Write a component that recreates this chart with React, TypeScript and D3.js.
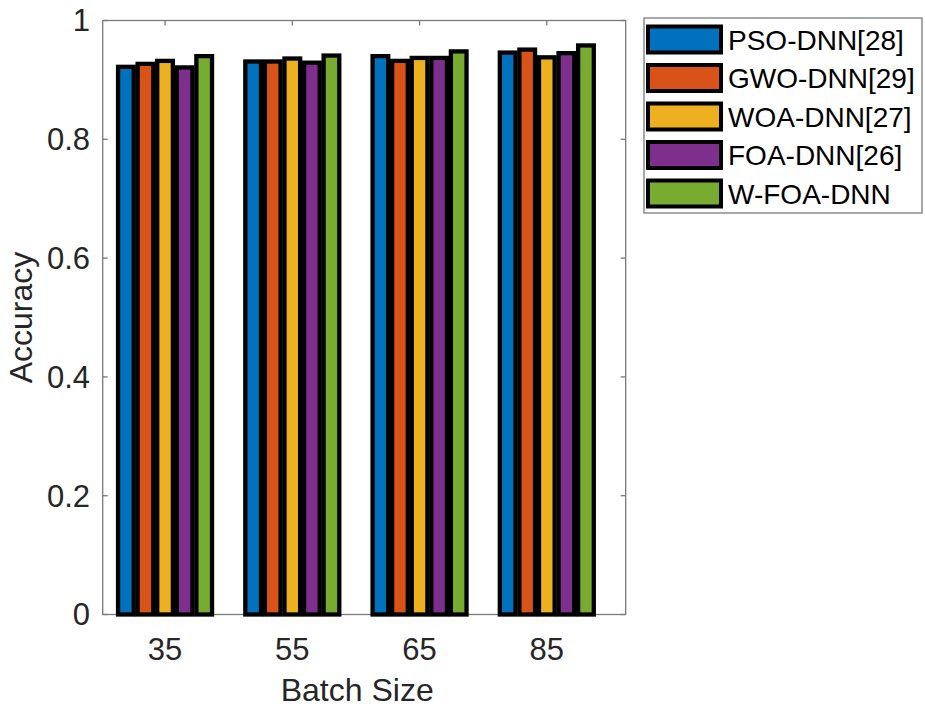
import React from "react";
import * as d3 from "d3";

const categories = ["35", "55", "65", "85"];
const seriesNames = ["PSO-DNN[28]", "GWO-DNN[29]", "WOA-DNN[27]", "FOA-DNN[26]", "W-FOA-DNN"];
const colors = ["#0072BD", "#D95319", "#EDB120", "#7E2F8E", "#77AC30"];
const psoValues = [0.922, 0.931, 0.940, 0.946];
const gwoValues = [0.927, 0.931, 0.932, 0.951];
const woaValues = [0.932, 0.936, 0.937, 0.938];
const foaValues = [0.921, 0.929, 0.937, 0.945];
const wfoaValues = [0.940, 0.941, 0.948, 0.958];
const seriesValues = [psoValues, gwoValues, woaValues, foaValues, wfoaValues];
const yTicks = [0, 0.2, 0.4, 0.6, 0.8, 1];

const W = 925;
const H = 709;
const left = 102.7;
const right = 625.7;
const top = 20.5;
const bottom = 614.5;
const font = "'Liberation Sans', Arial, Helvetica, sans-serif";

export default function App() {
  const x = d3.scaleLinear().domain([0.51, 4.62]).range([left, right]);
  const y = d3.scaleLinear().domain([0, 1]).range([bottom, top]);
  const nS = seriesNames.length;
  const groupW = Math.min(0.8, nS / (nS + 1.5));
  const pitch = groupW / nS;
  const barW = pitch * 0.8;
  const tickLen = 5;
  const axisColor = "#7a7a7a";
  const textColor = "#262626";

  const legX = 644;
  const legY = 18;
  const legW = 278;
  const legH = 195;
  const rowH = 38.5;

  return (
    <svg width={W} height={H} style={{ position: "absolute", left: 0, top: 0, background: "#fff" }}>
      <rect x={0} y={0} width={W} height={H} fill="#fff" />
      {/* axes box */}
      <rect x={left} y={top} width={right - left} height={bottom - top} fill="none" stroke={axisColor} strokeWidth={1.3} />
      {/* y ticks */}
      {yTicks.map((t) => (
        <g key={"yt" + t}>
          <line x1={left} x2={left + tickLen} y1={y(t)} y2={y(t)} stroke={axisColor} strokeWidth={1.3} />
          <line x1={right} x2={right - tickLen} y1={y(t)} y2={y(t)} stroke={axisColor} strokeWidth={1.3} />
          <text x={90} y={y(t)} dy="0.35em" textAnchor="end" fontFamily={font} fontSize={31} fill={textColor}>
            {d3.format("~g")(t)}
          </text>
        </g>
      ))}
      {/* x ticks */}
      {categories.map((c, i) => (
        <g key={"xt" + c}>
          <line x1={x(i + 1)} x2={x(i + 1)} y1={bottom} y2={bottom - tickLen} stroke={axisColor} strokeWidth={1.3} />
          <line x1={x(i + 1)} x2={x(i + 1)} y1={top} y2={top + tickLen} stroke={axisColor} strokeWidth={1.3} />
          <text x={x(i + 1)} y={660} textAnchor="middle" fontFamily={font} fontSize={31} fill={textColor}>
            {c}
          </text>
        </g>
      ))}
      {/* bars */}
      {seriesValues.map((vals, s) =>
        vals.map((v, i) => {
          const cx = i + 1 + (s - (nS - 1) / 2) * pitch;
          const x0 = x(cx - barW / 2);
          const x1 = x(cx + barW / 2);
          return (
            <rect
              key={`b${s}-${i}`}
              x={x0}
              y={y(v)}
              width={x1 - x0}
              height={y(0) - y(v)}
              fill={colors[s]}
              stroke="#000"
              strokeWidth={4.3}
            />
          );
        })
      )}
      {/* axis labels */}
      <text x={(left + right) / 2 - 7} y={701} textAnchor="middle" fontFamily={font} fontSize={32} fill={textColor}>
        Batch Size
      </text>
      <text
        transform={`translate(32, ${(top + bottom) / 2}) rotate(-90)`}
        textAnchor="middle"
        fontFamily={font}
        fontSize={32}
        fill={textColor}
      >
        Accuracy
      </text>
      {/* legend */}
      <rect x={legX} y={legY} width={legW} height={legH} fill="#fff" stroke={axisColor} strokeWidth={1.3} />
      {seriesNames.map((n, s) => {
        const cy = 39.5 + s * rowH;
        return (
          <g key={"lg" + n}>
            <rect x={648} y={cy - 13} width={73} height={26} fill={colors[s]} stroke="#000" strokeWidth={4} />
            <text x={728} y={cy} dy="0.36em" fontFamily={font} fontSize={28} fill="#000">
              {n}
            </text>
          </g>
        );
      })}
    </svg>
  );
}
